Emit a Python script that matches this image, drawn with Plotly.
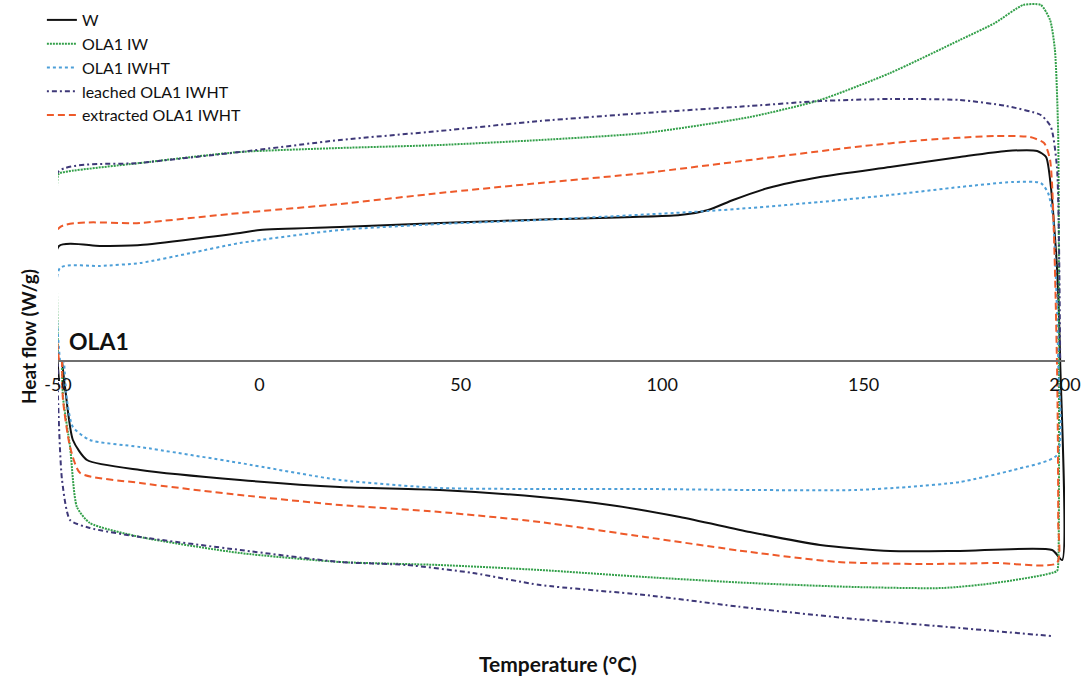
import plotly.graph_objects as go

# ---- Data (temperature in °C, heat flow in W/g) ----
w_T = [-49.75, -49.75, -39.6, -29.6, -4.8, 0.15, 20.0, 44.8, 73.9, 104.4, 111.4, 117.6, 126.3, 139.2,
       156.6, 173.9, 185.4, 193.1, 195.3, 196.5, 198.0, 198.8, 199.3, 196.8, 173.9, 156.6, 139.2,
       121.8, 104.4, 87.0, 69.7, 44.8, 20.0, -4.8, -29.6, -42.8, -46.3, -48.26, -49.0]
w_HF = [-0.10, 0.575, 0.575, 0.58, 0.64, 0.655, 0.67, 0.69, 0.71, 0.73, 0.755, 0.805, 0.865, 0.92,
        0.97, 1.02, 1.05, 1.05, 1.02, 0.87, 0.47, 0.0, -0.995, -0.945, -0.95, -0.95, -0.92,
        -0.855, -0.78, -0.72, -0.68, -0.645, -0.63, -0.595, -0.545, -0.495, -0.395, -0.13, 0.0]

iw_T = [-50.0, -50.0, -49.5, -29.6, -4.8, 20.0, 44.8, 69.7, 95.7, 121.8, 139.2, 156.6, 173.9, 182.6,
        189.6, 194.0, 196.3, 197.5, 198.3, 198.5, 198.3, 198.0, 182.6, 169.7, 147.9, 121.8, 95.7,
        69.7, 44.8, 20.0, -4.8, -29.6, -42.1, -45.3, -47.0, -48.76, -49.0]
iw_HF = [0.0, 0.93, 0.94, 0.99, 1.045, 1.065, 1.08, 1.105, 1.14, 1.22, 1.305, 1.44, 1.605, 1.69,
         1.78, 1.78, 1.705, 1.555, 1.14, 0.0, -1.02, -1.05, -1.11, -1.135, -1.13, -1.11, -1.08,
         -1.045, -1.02, -1.005, -0.96, -0.88, -0.81, -0.73, -0.43, -0.18, 0.0]

iwht_T = [-49.5, -49.5, -39.6, -29.6, -17.0, -4.8, 20.0, 44.8, 69.7, 111.4, 121.8, 139.2, 156.6, 173.9, 187.1,
          194.0, 195.8, 197.0, 198.3, 198.0, 187.1, 173.9, 161.0, 147.9, 121.8, 95.7, 69.7, 44.8,
          20.0, -4.8, -29.6, -42.1, -46.3, -47.77, -48.5]
iwht_HF = [0.0, 0.465, 0.475, 0.49, 0.54, 0.59, 0.655, 0.685, 0.705, 0.75, 0.765, 0.795, 0.83, 0.87, 0.895,
           0.89, 0.84, 0.72, 0.0, -0.47, -0.545, -0.605, -0.63, -0.645, -0.645, -0.64, -0.64, -0.635,
           -0.595, -0.51, -0.43, -0.395, -0.33, -0.195, 0.0]

leached_T = [-50.0, -50.0, -29.6, -4.8, 20.0, 44.8, 69.7, 95.7, 121.8, 139.2, 156.6, 173.9, 185.4,
             194.0, 196.5, 198.0, 198.8, None, 196.5, 173.9, 147.9, 121.8, 95.7, 69.7, 53.0, 36.6,
             20.0, -4.8, -29.6, -42.1, -47.0, -49.0, -50.0, -50.0]
leached_HF = [0.0, 0.945, 0.99, 1.045, 1.105, 1.15, 1.20, 1.24, 1.275, 1.30, 1.31, 1.305, 1.275,
              1.23, 1.17, 0.97, 0.0, None, -1.375, -1.335, -1.29, -1.235, -1.17, -1.12, -1.06, -1.02,
              -1.005, -0.945, -0.88, -0.835, -0.795, -0.595, -0.18, 0.0]

extr_T = [-49.75, -49.75, -29.6, -4.8, 20.0, 44.8, 69.7, 95.7, 121.8, 147.9, 165.2, 182.6, 191.3,
          194.8, 196.3, 198.0, 198.3, 198.0, 182.6, 165.2, 143.6, 121.8, 95.7, 69.7, 44.8, 20.0,
          -4.8, -29.6, -44.5, -47.0, -48.76, -49.0]
extr_HF = [0.0, 0.665, 0.69, 0.74, 0.785, 0.84, 0.89, 0.94, 1.005, 1.07, 1.105, 1.125, 1.12,
           1.09, 1.005, 0.0, -0.80, -1.01, -1.01, -1.015, -1.005, -0.955, -0.88, -0.805, -0.755, -0.72,
           -0.67, -0.61, -0.56, -0.43, -0.195, 0.0]

x_ticks = [-50, 0, 50, 100, 150, 200]

FONT = "Lato, 'Open Sans', sans-serif"
SMOOTH = 0.6

fig = go.Figure()
fig.add_trace(go.Scatter(x=w_T, y=w_HF, mode="lines", name="W",
                         line=dict(color="#111111", width=2, dash="solid", shape="spline", smoothing=SMOOTH)))
fig.add_trace(go.Scatter(x=iw_T, y=iw_HF, mode="lines", name="OLA1 IW",
                         line=dict(color="#33a04a", width=2, dash="2px,1px", shape="spline", smoothing=SMOOTH)))
fig.add_trace(go.Scatter(x=iwht_T, y=iwht_HF, mode="lines", name="OLA1 IWHT",
                         line=dict(color="#4d9fd8", width=2, dash="3px,3px", shape="spline", smoothing=SMOOTH)))
fig.add_trace(go.Scatter(x=leached_T, y=leached_HF, mode="lines", name="leached OLA1 IWHT",
                         line=dict(color="#3e3878", width=2, dash="2px,3px,5px,3px", shape="spline", smoothing=SMOOTH)))
fig.add_trace(go.Scatter(x=extr_T, y=extr_HF, mode="lines", name="extracted OLA1 IWHT",
                         line=dict(color="#ee5a2a", width=2, dash="7px,4px", shape="spline", smoothing=SMOOTH)))

H_PLOT = 651
axis_pos = (H_PLOT - 361) / H_PLOT

fig.update_layout(
    width=1085, height=677,
    margin=dict(l=58, r=20, t=0, b=677 - H_PLOT),
    paper_bgcolor="white", plot_bgcolor="white",
    font=dict(family=FONT, size=16, color="#111111"),
    showlegend=True,
    legend=dict(x=-0.016, y=1.0 - 3 / H_PLOT, xanchor="left", yanchor="top",
                bgcolor="rgba(255,255,255,0)", font=dict(size=16, family=FONT),
                itemwidth=30, tracegroupgap=0),
    xaxis=dict(range=[-50, 200], tickvals=x_ticks, ticktext=[str(v) for v in x_ticks],
               showgrid=False, zeroline=False, showline=True, linecolor="#6f6f6f", linewidth=1.5,
               anchor="free", position=axis_pos, ticks="outside", ticklen=8,
               tickcolor="rgba(0,0,0,0)", tickfont=dict(size=18, family=FONT)),
    yaxis=dict(range=[-1.45, 1.805], showgrid=False, zeroline=False, showline=False,
               showticklabels=False, ticks=""),
    annotations=[
        dict(text="<b>Heat flow (W/g)</b>", x=(28 - 58) / 1007, y=(H_PLOT - 337) / H_PLOT,
             xref="paper", yref="paper", showarrow=False, textangle=-90,
             font=dict(size=19, family=FONT), xanchor="center", yanchor="middle"),
        dict(text="<b>Temperature (°C)</b>", x=(558 - 58) / 1007, y=(H_PLOT - 663) / H_PLOT,
             xref="paper", yref="paper", showarrow=False,
             font=dict(size=21, family=FONT), xanchor="center", yanchor="middle"),
        dict(text="<b>OLA1</b>", x=(67 - 58) / 1007, y=(H_PLOT - 341) / H_PLOT,
             xref="paper", yref="paper", showarrow=False,
             font=dict(size=23, family=FONT), xanchor="left", yanchor="middle"),
    ],
)

fig.write_html("out.html")
